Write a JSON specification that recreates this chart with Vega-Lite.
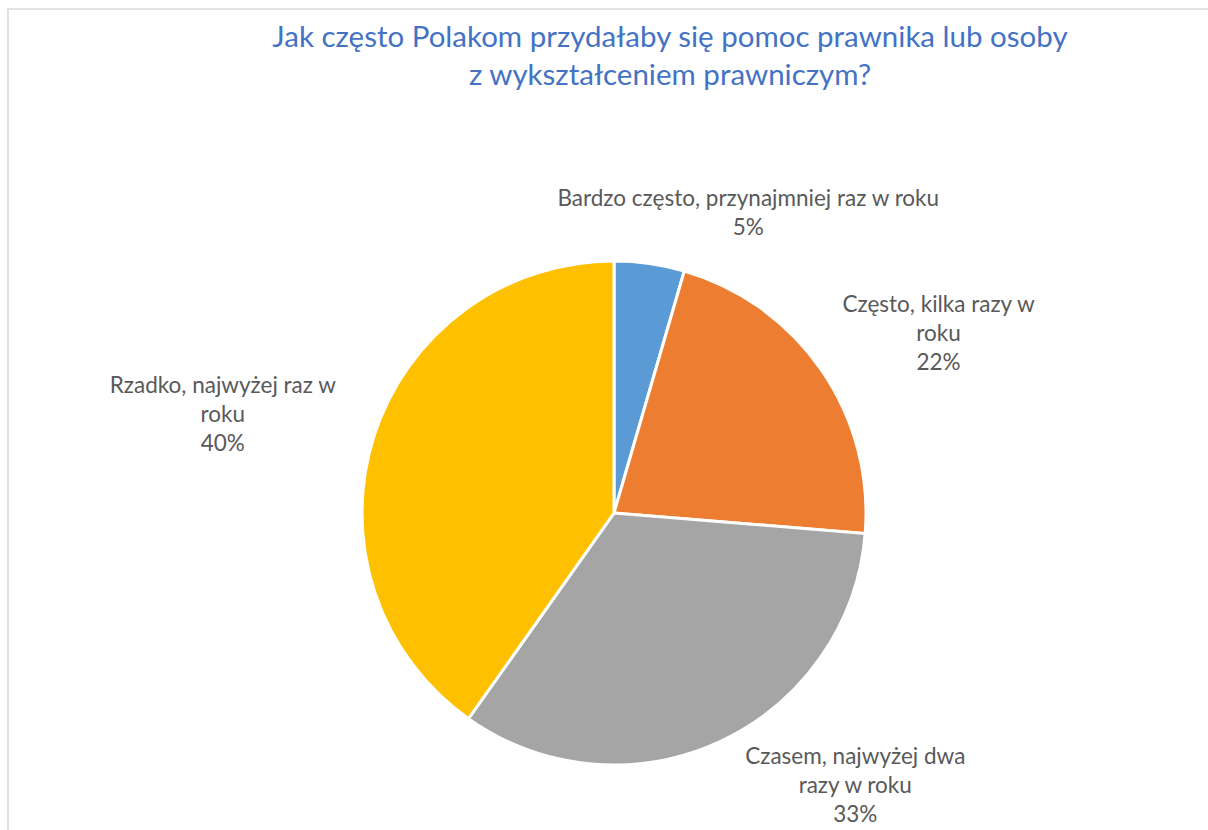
{
  "$schema": "https://vega.github.io/schema/vega-lite/v6.json",
  "autosize": {"type": "none"},
  "width": 1212,
  "height": 1008,
  "padding": {"left": 8, "top": 9, "right": -12, "bottom": -187},
  "background": "white",
  "view": {"stroke": "#D9D9D9", "strokeWidth": 1.5},
  "title": {
    "text": ["Jak często Polakom przydałaby się pomoc prawnika lub osoby", "z wykształceniem prawniczym?"],
    "font": "Lato",
    "fontSize": 29.5,
    "fontWeight": "normal",
    "color": "#4472C4",
    "lineHeight": 38,
    "anchor": "middle",
    "dx": 56,
    "offset": -82
  },
  "data": {
    "values": [
      {"cat": "Bardzo często, przynajmniej raz w roku", "value": 4.5, "order": 1, "label": ["Bardzo często, przynajmniej raz w roku", "5%"]},
      {"cat": "Często, kilka razy w roku", "value": 21.8, "order": 2, "label": ["Często, kilka razy w", "roku", "22%"]},
      {"cat": "Czasem, najwyżej dwa razy w roku", "value": 33.5, "order": 3, "label": ["Czasem, najwyżej dwa", "razy w roku", "33%"]},
      {"cat": "Rzadko, najwyżej raz w roku", "value": 40.2, "order": 4, "label": ["Rzadko, najwyżej raz w", "roku", "40%"]}
    ]
  },
  "encoding": {
    "theta": {"field": "value", "type": "quantitative", "stack": true},
    "order": {"field": "order", "type": "quantitative"}
  },
  "layer": [
    {
      "mark": {"type": "arc", "outerRadius": 252, "stroke": "white", "strokeWidth": 3},
      "encoding": {
        "color": {
          "field": "cat",
          "type": "nominal",
          "sort": ["Bardzo często, przynajmniej raz w roku", "Często, kilka razy w roku", "Czasem, najwyżej dwa razy w roku", "Rzadko, najwyżej raz w roku"],
          "scale": {"range": ["#5B9BD5", "#ED7D31", "#A5A5A5", "#FFC000"]},
          "legend": null
        }
      }
    },
    {
      "mark": {"type": "text", "radius": 300, "dx": 92, "dy": -17, "font": "Lato", "fontSize": 22.5, "lineHeight": 29, "color": "#595959", "align": "center", "baseline": "middle"},
      "encoding": {"text": {"condition": {"test": "datum.order == 1", "field": "label", "type": "nominal"}, "value": ""}}
    },
    {
      "mark": {"type": "text", "radius": 371, "dx": 19, "dy": 2, "font": "Lato", "fontSize": 22.5, "lineHeight": 29, "color": "#595959", "align": "center", "baseline": "middle"},
      "encoding": {"text": {"condition": {"test": "datum.order == 2", "field": "label", "type": "nominal"}, "value": ""}}
    },
    {
      "mark": {"type": "text", "radius": 360, "dx": 89, "dy": -82, "font": "Lato", "fontSize": 22.5, "lineHeight": 29, "color": "#595959", "align": "center", "baseline": "middle"},
      "encoding": {"text": {"condition": {"test": "datum.order == 3", "field": "label", "type": "nominal"}, "value": ""}}
    },
    {
      "mark": {"type": "text", "radius": 400, "dx": -10, "dy": -6, "font": "Lato", "fontSize": 22.5, "lineHeight": 29, "color": "#595959", "align": "center", "baseline": "middle"},
      "encoding": {"text": {"condition": {"test": "datum.order == 4", "field": "label", "type": "nominal"}, "value": ""}}
    }
  ]
}
